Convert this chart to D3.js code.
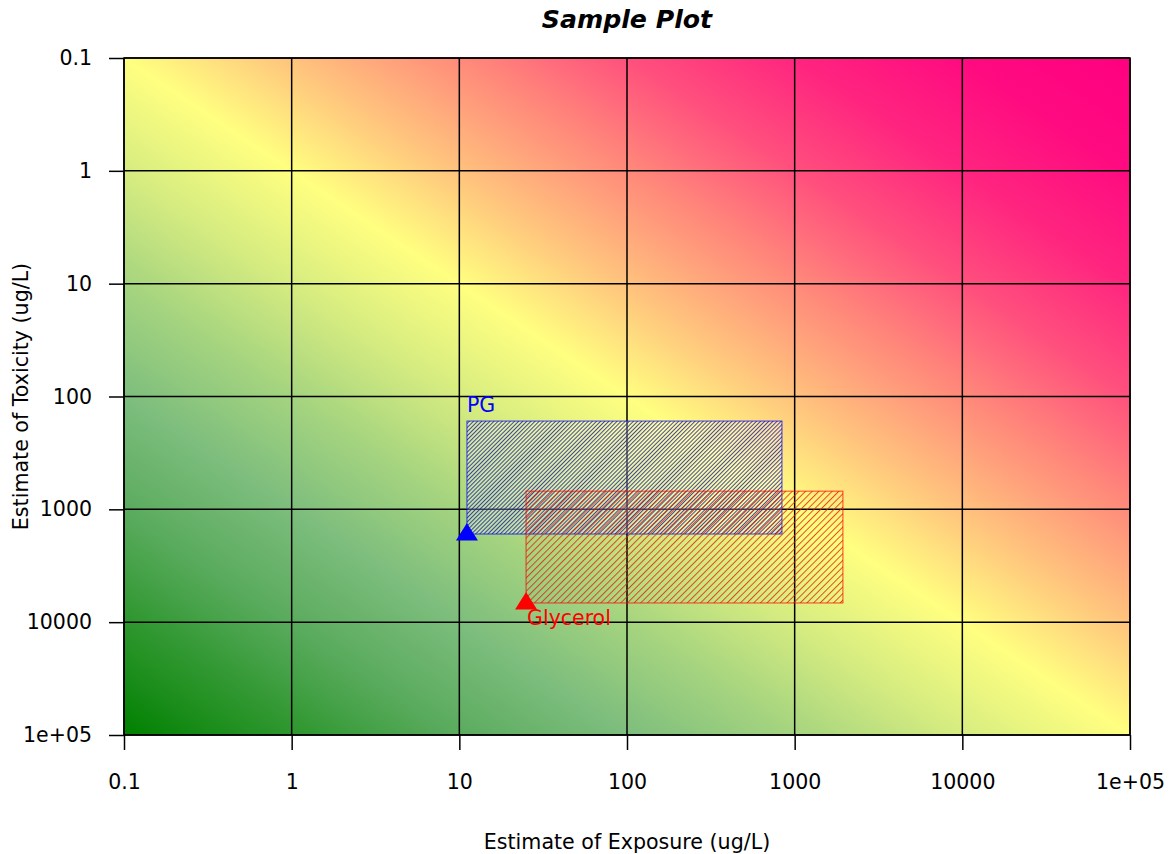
<!DOCTYPE html>
<html>
<head>
<meta charset="utf-8">
<script src="https://cdn.jsdelivr.net/npm/d3@7"></script>
<style>
  html, body { margin: 0; padding: 0; background: #ffffff; }
  svg { display: block; font-family: "DejaVu Sans", sans-serif; }
</style>
</head>
<body>
<svg id="chart" width="1171" height="854"></svg>
<script>
// ---- data ----
const xTicks = [0.1, 1, 10, 100, 1000, 10000, 100000];
const xTickLabels = ["0.1", "1", "10", "100", "1000", "10000", "1e+05"];
const yTicks = [0.1, 1, 10, 100, 1000, 10000, 100000];
const yTickLabels = ["0.1", "1", "10", "100", "1000", "10000", "1e+05"];

const chemicals = ["PG", "Glycerol"];
const exposureMin = [11.1, 25];
const exposureMax = [840, 1940];
const toxicityMin = [165, 690];
const toxicityMax = [1655, 6760];
const pointExposure = [11.1, 25];
const pointToxicity = [1655, 6760];
const chemColors = ["#0000ff", "#ff0000"];

// risk gradient: log10(exposure/toxicity) -> colour
const riskLevels = [-6, -5, -4, -3, -2, -1, 0, 1, 2, 3, 4, 5, 6];
const riskColors = ["#008000", "#2d962d", "#5aab5e", "#7dbd7d", "#a5d47f", "#d6ec80",
                    "#ffff80", "#ffc27d", "#ff8a7a", "#ff507d", "#ff247f", "#ff0a80", "#ff0080"];

// ---- layout ----
const svg = d3.select("#chart");
const L = 124, R = 1130, T = 58, B = 735;

const x = d3.scaleLog().domain([0.1, 1e5]).range([L, R]);
const y = d3.scaleLog().domain([0.1, 1e5]).range([T, B]);
const riskColor = d3.scaleLinear().domain(riskLevels).range(riskColors);

const defs = svg.append("defs");
const grad = defs.append("linearGradient")
  .attr("id", "riskGrad")
  .attr("gradientUnits", "objectBoundingBox")
  .attr("x1", 0).attr("y1", 1).attr("x2", 1).attr("y2", 0);
const rMin = riskLevels[0], rMax = riskLevels[riskLevels.length - 1];
d3.range(0, 49).forEach(i => {
  const r = rMin + (rMax - rMin) * i / 48;
  grad.append("stop")
    .attr("offset", (i / 48))
    .attr("stop-color", riskColor(r));
});

// hatch patterns
function hatch(id, spacing, color, opacity, bg, bgOpacity) {
  const p = defs.append("pattern")
    .attr("id", id)
    .attr("patternUnits", "userSpaceOnUse")
    .attr("width", spacing).attr("height", spacing)
    .attr("patternTransform", "rotate(45)");
  if (bg) p.append("rect").attr("width", spacing).attr("height", spacing)
    .attr("fill", bg).attr("fill-opacity", bgOpacity);
  p.append("line")
    .attr("x1", 0.5).attr("y1", 0).attr("x2", 0.5).attr("y2", spacing)
    .attr("stroke", color).attr("stroke-width", 1).attr("stroke-opacity", opacity);
}
hatch("hatch0", 2.9, "#1a1aa0", 0.8, "#ffffff", 0.28);
hatch("hatch1", 4.7, "#e0200a", 0.8, null, 0);

// background gradient
svg.append("rect")
  .attr("x", x(0.1)).attr("y", y(0.1))
  .attr("width", x(1e5) - x(0.1)).attr("height", y(1e5) - y(0.1))
  .attr("fill", "url(#riskGrad)");

// grid lines
svg.append("g").selectAll("line").data(xTicks).join("line")
  .attr("x1", d => x(d)).attr("x2", d => x(d))
  .attr("y1", T).attr("y2", B)
  .attr("stroke", "#000").attr("stroke-width", 1.5);
svg.append("g").selectAll("line").data(yTicks).join("line")
  .attr("y1", d => y(d)).attr("y2", d => y(d))
  .attr("x1", L).attr("x2", R)
  .attr("stroke", "#000").attr("stroke-width", 1.5);

// rectangles
chemicals.forEach((c, i) => {
  svg.append("rect")
    .attr("x", x(exposureMin[i]))
    .attr("y", y(toxicityMin[i]))
    .attr("width", x(exposureMax[i]) - x(exposureMin[i]))
    .attr("height", y(toxicityMax[i]) - y(toxicityMin[i]))
    .attr("fill", `url(#hatch${i})`)
    .attr("stroke", chemColors[i])
    .attr("stroke-opacity", 0.75)
    .attr("stroke-width", 1);
});

// points (triangles) and labels
chemicals.forEach((c, i) => {
  const px = x(pointExposure[i]), py = y(pointToxicity[i]);
  svg.append("path")
    .attr("d", `M${px - 11},${py + 6.5}L${px + 11},${py + 6.5}L${px},${py - 11}Z`)
    .attr("fill", chemColors[i]);
});
svg.append("text")
  .attr("x", x(exposureMin[0]))
  .attr("y", y(toxicityMin[0]) - 9)
  .attr("font-size", 20.5).attr("fill", chemColors[0])
  .text(chemicals[0]);
svg.append("text")
  .attr("x", x(exposureMin[1]) + 1)
  .attr("y", y(toxicityMax[1]) + 22)
  .attr("font-size", 20.5).attr("fill", chemColors[1])
  .text(chemicals[1]);

// axes
const xAxis = d3.axisBottom(x).tickValues(xTicks)
  .tickFormat((d, i) => xTickLabels[i]).tickSize(15).tickSizeOuter(0).tickPadding(24);
const gx = svg.append("g").attr("transform", `translate(0,${B})`).call(xAxis);
gx.select(".domain").remove();
gx.selectAll("line").attr("stroke", "#000").attr("stroke-width", 1.5);
gx.selectAll("text").attr("font-size", 20.5).attr("font-family", "DejaVu Sans").attr("fill", "#000");

const yAxis = d3.axisLeft(y).tickValues(yTicks)
  .tickFormat((d, i) => yTickLabels[i]).tickSize(15).tickSizeOuter(0).tickPadding(17);
const gy = svg.append("g").attr("transform", `translate(${L},0)`).call(yAxis);
gy.select(".domain").remove();
gy.selectAll("line").attr("stroke", "#000").attr("stroke-width", 1.5);
gy.selectAll("text").attr("font-size", 20.5).attr("font-family", "DejaVu Sans").attr("fill", "#000");

// border
svg.append("rect")
  .attr("x", L).attr("y", T).attr("width", R - L).attr("height", B - T)
  .attr("fill", "none").attr("stroke", "#000").attr("stroke-width", 1.5);

// titles
svg.append("text")
  .attr("x", (L + R) / 2).attr("y", 28)
  .attr("text-anchor", "middle")
  .attr("font-size", 25.2).attr("font-weight", "bold").attr("font-style", "italic")
  .text("Sample Plot");
svg.append("text")
  .attr("x", (L + R) / 2).attr("y", 849)
  .attr("text-anchor", "middle")
  .attr("font-size", 20.6)
  .text("Estimate of Exposure (ug/L)");
svg.append("text")
  .attr("transform", `translate(28,${(T + B) / 2}) rotate(-90)`)
  .attr("text-anchor", "middle")
  .attr("font-size", 20.6)
  .text("Estimate of Toxicity (ug/L)");
</script>
</body>
</html>
